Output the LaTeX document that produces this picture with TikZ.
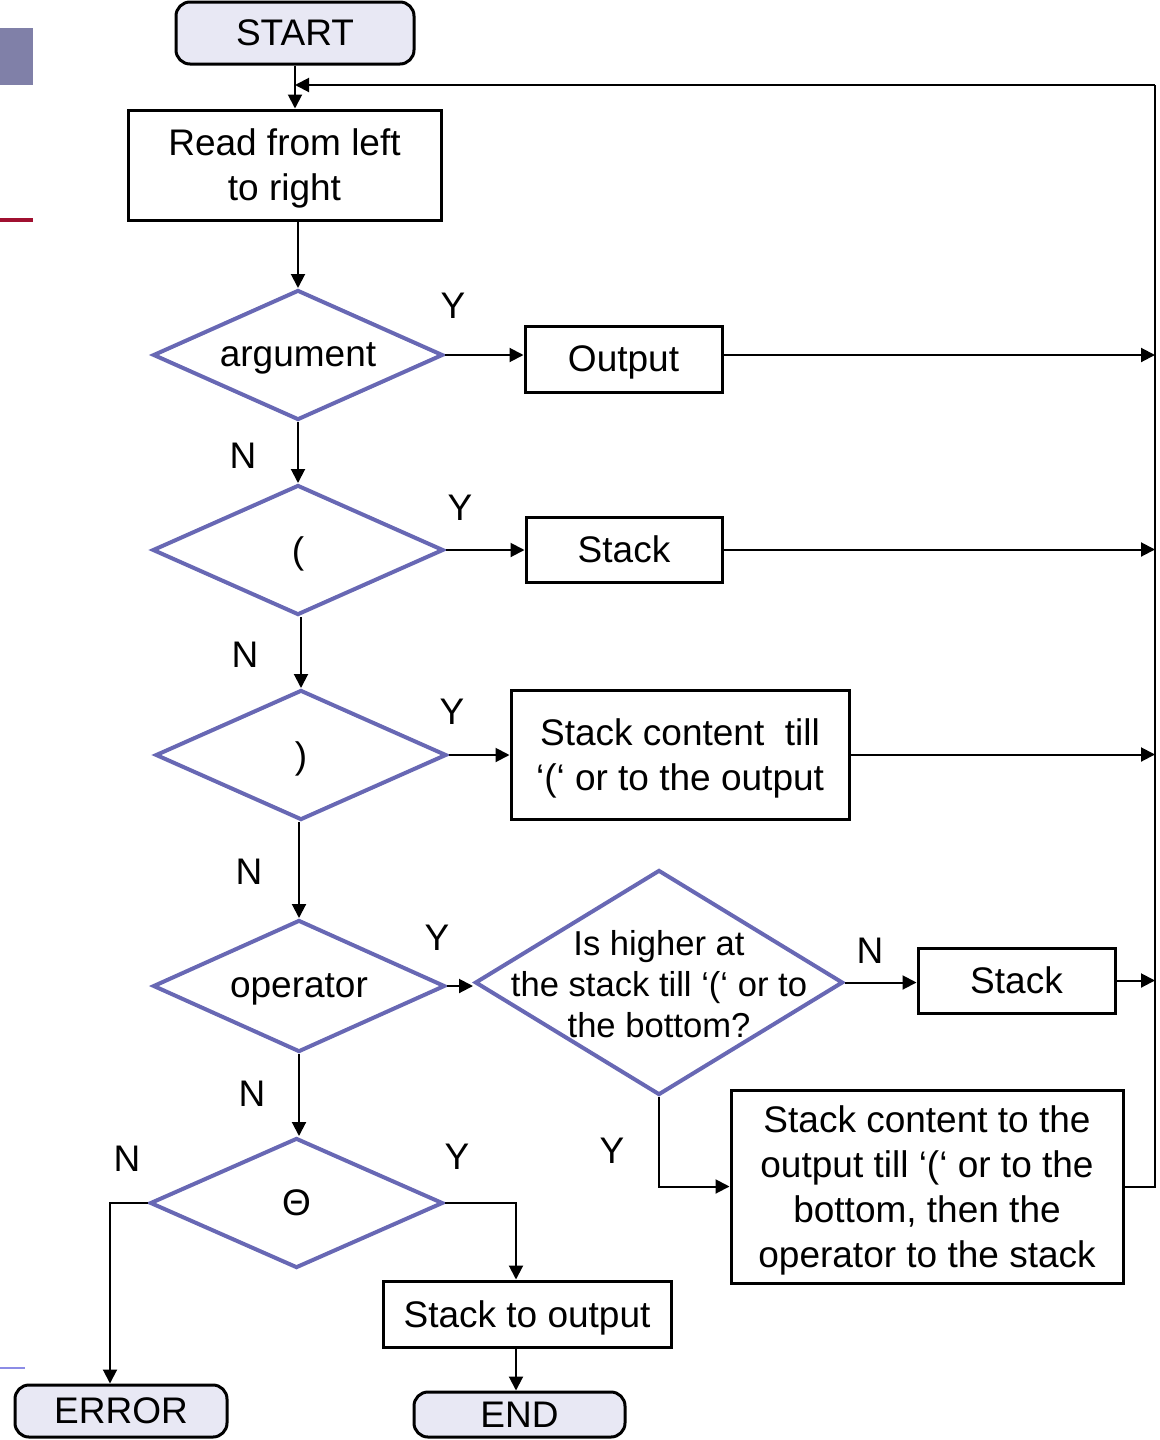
\documentclass[tikz,border=0pt]{standalone}
\usepackage{fontspec}
\setmainfont{Liberation Sans}
\usetikzlibrary{shapes.geometric,arrows.meta}
\definecolor{diam}{RGB}{104,104,180}
\definecolor{termfill}{RGB}{232,232,244}
\definecolor{sidebar}{RGB}{128,128,168}
\definecolor{sidered}{RGB}{160,16,48}
\definecolor{sideblue}{RGB}{140,140,230}

\begin{document}
\begin{tikzpicture}[x=0.5pt,y=-0.5pt,
  font=\fontsize{18.5}{22.5}\selectfont,
  box/.style={draw,line width=1.5pt,inner sep=0pt,text depth=0pt,align=center},
  term/.style={box,rounded corners=7pt,fill=termfill},
  decision/.style={diamond,aspect=2.2,draw=diam,line width=2pt,inner sep=0pt,text depth=0pt,align=center},
  flow/.style={line width=1pt,-{Triangle[length=7pt,width=7pt]}},
  line/.style={line width=1pt}]
\useasboundingbox (0,0) rectangle (1160,1440);
% slide remnants on the left edge
\fill[sidebar] (0,28) rectangle (33,85);
\fill[sidered] (0,218) rectangle (33,222);
\draw[sideblue,line width=1pt] (0,1368) -- (25,1368);
% terminals and boxes
\node[term,minimum width=119pt,minimum height=31pt] (start) at (295,33) {START};
\node[box,minimum width=156.5pt,minimum height=55pt] (read) at (284.5,165) {Read from left\\to right};
\node[box,minimum width=98.5pt,minimum height=33pt] (out) at (623.5,359) {Output};
\node[box,minimum width=98pt,minimum height=32.5pt] (stk) at (624,549.5) {Stack};
\node[box,minimum width=169pt,minimum height=64.5pt] (till) at (680,754.5) {Stack content~ till\\‘(‘ or to the output};
\node[box,minimum width=98.5pt,minimum height=32.5pt] (stktwo) at (1016.5,980.5) {Stack};
\node[box,minimum width=196pt,minimum height=96.5pt] (final) at (927,1186.5) {Stack content to the\\output till ‘(‘ or to the\\bottom, then the\\operator to the stack};
\node[box,minimum width=144pt,minimum height=33pt] (sto) at (527,1314) {Stack to output};
\node[term,minimum width=106pt,minimum height=26pt] (err) at (121,1411) {ERROR};
\node[term,minimum width=105.5pt,minimum height=22.5pt] (stop) at (519.5,1414.5) {END};
% decisions
\node[decision,minimum width=145pt,minimum height=65pt] (arg) at (298,355) {argument};
\node[decision,minimum width=145.5pt,minimum height=65pt] (paren) at (298,550) {(};
\node[decision,minimum width=145.5pt,minimum height=65pt] (cparen) at (301,755) {)};
\node[decision,minimum width=146pt,minimum height=66pt] (op) at (299,986) {operator};
\node[decision,minimum width=184pt,minimum height=112.5pt,
  label={[align=center,font=\fontsize{17.3}{20.5}\selectfont,yshift=-1pt]center:Is higher at\\the stack till ‘(‘ or to\\the bottom?}] (higher) at (659,982.5) {};
\node[decision,minimum width=146.5pt,minimum height=65pt] (theta) at (296.5,1203) {Θ};
% branch labels
\node (ya) at (453,306) {Y};
\node (na) at (243,456) {N};
\node (yb) at (460,508) {Y};
\node (nb) at (245,655) {N};
\node (yc) at (452,712) {Y};
\node (nc) at (249,872) {N};
\node (yd) at (437,938) {Y};
\node (nd) at (870,951) {N};
\node (ye) at (612,1151) {Y};
\node (ne) at (252,1094) {N};
\node (nf) at (127,1159) {N};
\node (yf) at (457,1157) {Y};
% return bus on the right
\coordinate (bustop) at (1155,85);
\coordinate (busbot) at (1155,1185);
\draw[line] (final.east) -- (final.east -| busbot) -- (bustop);
\draw[flow] (bustop) -- (bustop -| start.south);
% connectors
\draw[flow] (start.south) -- (start.south |- read.north);
\draw[flow] (arg.north |- read.south) -- (arg.north);
\draw[flow] (arg.east) -- (arg.east -| out.west);
\draw[flow] (out.east |- arg.east) -- (bustop |- arg.east);
\draw[flow] (arg.south) -- (paren.north);
\draw[flow] (paren.east) -- (paren.east -| stk.west);
\draw[flow] (stk.east) -- (stk.east -| bustop);
\draw[flow] (cparen.north |- paren.south) -- (cparen.north);
\draw[flow] (cparen.east) -- (cparen.east -| till.west);
\draw[flow] (till.east) -- (till.east -| bustop);
\draw[flow] (op.north |- cparen.south) -- (op.north);
\draw[flow] (op.east) -- (op.east -| higher.west);
\draw[flow] (higher.east) -- (higher.east -| stktwo.west);
\draw[flow] (stktwo.east) -- (stktwo.east -| bustop);
\draw[flow] (higher.south) |- (final.west);
\draw[flow] (op.south) -- (op.south |- theta.north);
\draw[flow] (theta.west) -| ([xshift=-5.5pt]err.north);
\draw[flow] (theta.east) -| ([xshift=-5.5pt]sto.north);
\draw[flow] ([xshift=-5.5pt]sto.south) -- ([xshift=-5.5pt]sto.south |- stop.north);
\end{tikzpicture}
\end{document}
